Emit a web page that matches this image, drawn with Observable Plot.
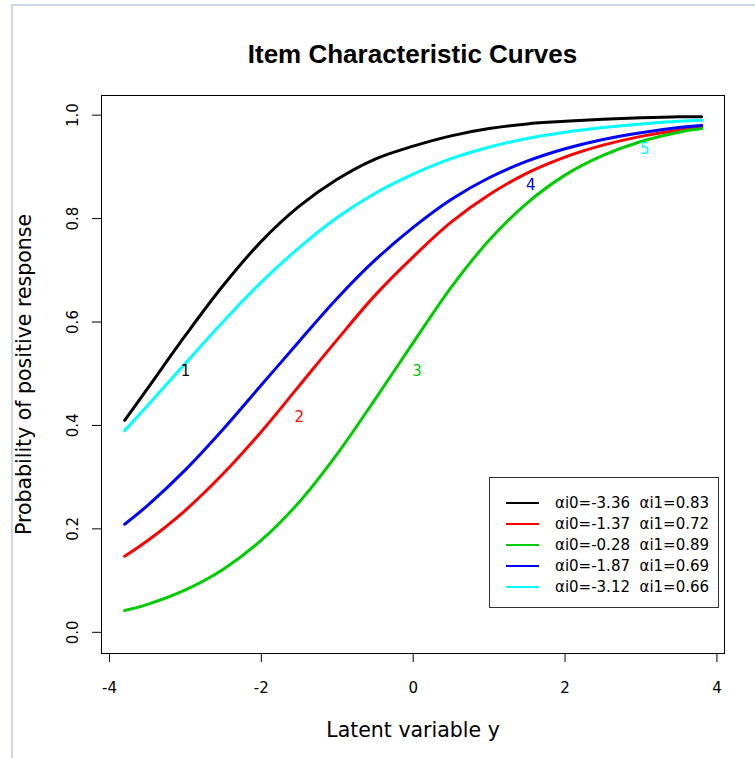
<!DOCTYPE html>
<html><head><meta charset="utf-8">
<script src="https://cdn.jsdelivr.net/npm/d3@7"></script>
<script src="https://cdn.jsdelivr.net/npm/@observablehq/plot@0.6"></script>
<style>
body{margin:0;background:#fff;font-family:"DejaVu Sans",sans-serif}
#wrap{position:relative;width:755px;height:758px;overflow:hidden;background:#fff}
#frame{position:absolute;left:11px;top:4px;width:760px;height:770px;border-left:2px solid #c6d9f0;border-top:2px solid #c6d9f0;box-sizing:border-box}
#title{position:absolute;left:101px;width:623px;top:39px;line-height:32px;text-align:center;font:bold 26px "Liberation Sans",Arial,sans-serif;color:#000}
#chart{position:absolute;left:0;top:80px}
#legend{position:absolute;left:489px;top:477px;width:230px;height:131px;border:1px solid #333;box-sizing:border-box;background:#fff}
.row{position:absolute;left:0;height:20px;width:100%}
.sw{position:absolute;left:16px;width:33px;height:2px;top:9px}
.lt{position:absolute;left:65px;top:0;line-height:20px;font-size:15px;white-space:pre;color:#000}
</style></head>
<body>
<div id="wrap">
  <div id="frame"></div>
  <div id="title">Item Characteristic Curves</div>
  <div id="chart"></div>
  <div id="legend"></div>
</div>
<script>
// Latent variable grid (x)
const xs = [-3.8,-3.5,-3,-2.5,-2,-1.5,-1,-0.5,0,0.5,1,1.5,2,2.5,3,3.5,3.8];
// Probability of positive response, one array per item
const item1 = [0.410,0.471,0.574,0.671,0.756,0.824,0.876,0.915,0.940,0.960,0.974,0.983,0.988,0.992,0.995,0.997,0.997];
const item2 = [0.147,0.177,0.236,0.307,0.388,0.477,0.566,0.652,0.726,0.793,0.846,0.888,0.919,0.942,0.959,0.971,0.976];
const item3 = [0.042,0.054,0.082,0.122,0.178,0.252,0.345,0.451,0.560,0.667,0.758,0.830,0.884,0.922,0.949,0.967,0.974];
const item4 = [0.209,0.245,0.314,0.393,0.478,0.563,0.646,0.720,0.783,0.837,0.879,0.911,0.935,0.953,0.966,0.976,0.980];
const item5 = [0.390,0.438,0.520,0.601,0.677,0.744,0.802,0.849,0.886,0.916,0.938,0.955,0.967,0.976,0.983,0.988,0.990];
const itemNames = ["1","2","3","4","5"];
const itemColors = ["#000000","#ff0000","#00cd00","#0000ff","#00ffff"];
// curve number labels (data coordinates)
const labelX = [-3.0,-1.5,0.05,1.55,3.05];
const labelY = [0.505,0.415,0.505,0.865,0.935];
const legendText = ["αi0=-3.36  αi1=0.83","αi0=-1.37  αi1=0.72","αi0=-0.28  αi1=0.89","αi0=-1.87  αi1=0.69","αi0=-3.12  αi1=0.66"];
const xTicks = [-4,-2,0,2,4];
const yTicks = [0,0.2,0.4,0.6,0.8,1.0];

const series = [item1,item2,item3,item4,item5];
const rows = [];
series.forEach((arr,i)=>arr.forEach((v,j)=>rows.push({item:itemNames[i], x:xs[j], p:v})));
const labels = itemNames.map((n,i)=>({item:n, x:labelX[i], p:labelY[i]}));

const chart = Plot.plot({
  width:755, height:678,
  marginLeft:101, marginRight:31, marginTop:15, marginBottom:105,
  style:{fontFamily:"DejaVu Sans, sans-serif", background:"transparent", overflow:"visible"},
  x:{domain:[-4.105,4.1]},
  y:{domain:[-0.041,1.038]},
  color:{domain:itemNames, range:itemColors},
  marks:[
    Plot.frame({stroke:"#000", strokeWidth:1}),
    Plot.axisX({ticks:xTicks, tickSize:9, tickPadding:20, fontSize:15, tickFormat:d=>String(d).replace("−","-"), label:null, stroke:"#000"}),
    Plot.axisY({ticks:yTicks, tickSize:9, tickFormat:()=>"", label:null, stroke:"#000"}),
    Plot.text(yTicks, {y:d=>d, frameAnchor:"left", dx:-28, rotate:-90, text:d3.format(".1f"), fontSize:15, textAnchor:"middle", lineAnchor:"middle", fill:"#000"}),
    Plot.text(["Probability of positive response"], {frameAnchor:"left", dx:-77, rotate:-90, text:d=>d, fontSize:20.5, textAnchor:"middle", lineAnchor:"middle", fill:"#000"}),
    Plot.text(["Latent variable y"], {frameAnchor:"bottom", dy:77, text:d=>d, fontSize:20.5, textAnchor:"middle", lineAnchor:"middle", fill:"#000"}),
    Plot.line(rows, {x:"x", y:"p", z:"item", stroke:"item", strokeWidth:3, curve:"catmull-rom"}),
    Plot.text(labels, {x:"x", y:"p", text:"item", fill:"item", fontSize:15, lineAnchor:"middle"})
  ]
});
chart.querySelectorAll("text").forEach(t=>{ if(t.textContent.includes("−")) t.textContent=t.textContent.replace("−","-"); });
document.getElementById("chart").appendChild(chart);

const leg = document.getElementById("legend");
legendText.forEach((t,i)=>{
  const r = document.createElement("div");
  r.className="row"; r.style.top=(15+21*i)+"px";
  r.innerHTML = `<div class="sw" style="background:${itemColors[i]}"></div><div class="lt"></div>`;
  r.querySelector(".lt").textContent = t;
  leg.appendChild(r);
});
</script>
</body></html>
